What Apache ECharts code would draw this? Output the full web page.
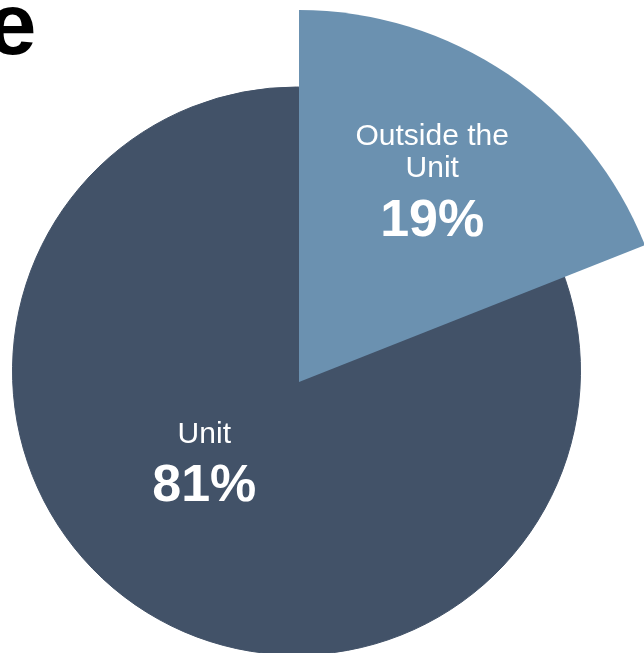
<!DOCTYPE html>
<html>
<head>
<meta charset="utf-8">
<script src="https://cdn.jsdelivr.net/npm/echarts@6/dist/echarts.min.js"></script>
<style>
html,body{margin:0;padding:0;background:#fff;}
#chart{width:644px;height:653px;}
</style>
</head>
<body>
<div id="chart"></div>
<script>
const categories = ['Outside the\nUnit', 'Unit'];
const values = [19, 81];
const titleText = 'e';

const DARK = '#425268';
const LIGHT = '#6b91b0';
const FONT = '"Liberation Sans", Arial, sans-serif';

const rich = {
  n: { fontSize: 30, lineHeight: 32, color: '#fff', fontFamily: FONT },
  v: { fontSize: 52, lineHeight: 72, fontWeight: 'bold', color: '#fff', fontFamily: FONT }
};
const fmt = p => '{n|' + p.name + '}\n{v|' + p.value + '%}';

const chart = echarts.init(document.getElementById('chart'), null, { renderer: 'canvas' });
chart.setOption({
  animation: false,
  backgroundColor: '#fff',
  graphic: [{
    type: 'text',
    x: 36.5, y: 30,
    style: {
      text: titleText,
      fontSize: 88, fontWeight: 'bold', fontFamily: FONT,
      fill: '#000', align: 'right', verticalAlign: 'middle'
    }
  }],
  series: [
    {
      type: 'pie',
      silent: true,
      center: [296.5, 371],
      radius: [0, 284],
      startAngle: 90,
      clockwise: true,
      labelLine: { show: false },
      itemStyle: { borderColor: DARK, borderWidth: 1 },
      data: [
        { name: categories[0], value: values[0], itemStyle: { color: DARK }, label: { show: false } },
        { name: categories[1], value: values[1], itemStyle: { color: DARK },
          label: { show: true, position: 'inside', formatter: fmt, rich: rich, offset: [-10.7, -19.9] } }
      ]
    },
    {
      type: 'pie',
      silent: true,
      center: [299, 382],
      radius: [0, 372],
      startAngle: 90,
      clockwise: true,
      labelLine: { show: false },
      data: [
        { name: categories[0], value: values[0], itemStyle: { color: LIGHT },
          label: { show: true, position: 'inside', formatter: fmt, rich: rich, offset: [27, -36.5] } },
        { name: categories[1], value: values[1], itemStyle: { color: 'rgba(0,0,0,0)' }, label: { show: false } }
      ]
    }
  ]
});
</script>
</body>
</html>
